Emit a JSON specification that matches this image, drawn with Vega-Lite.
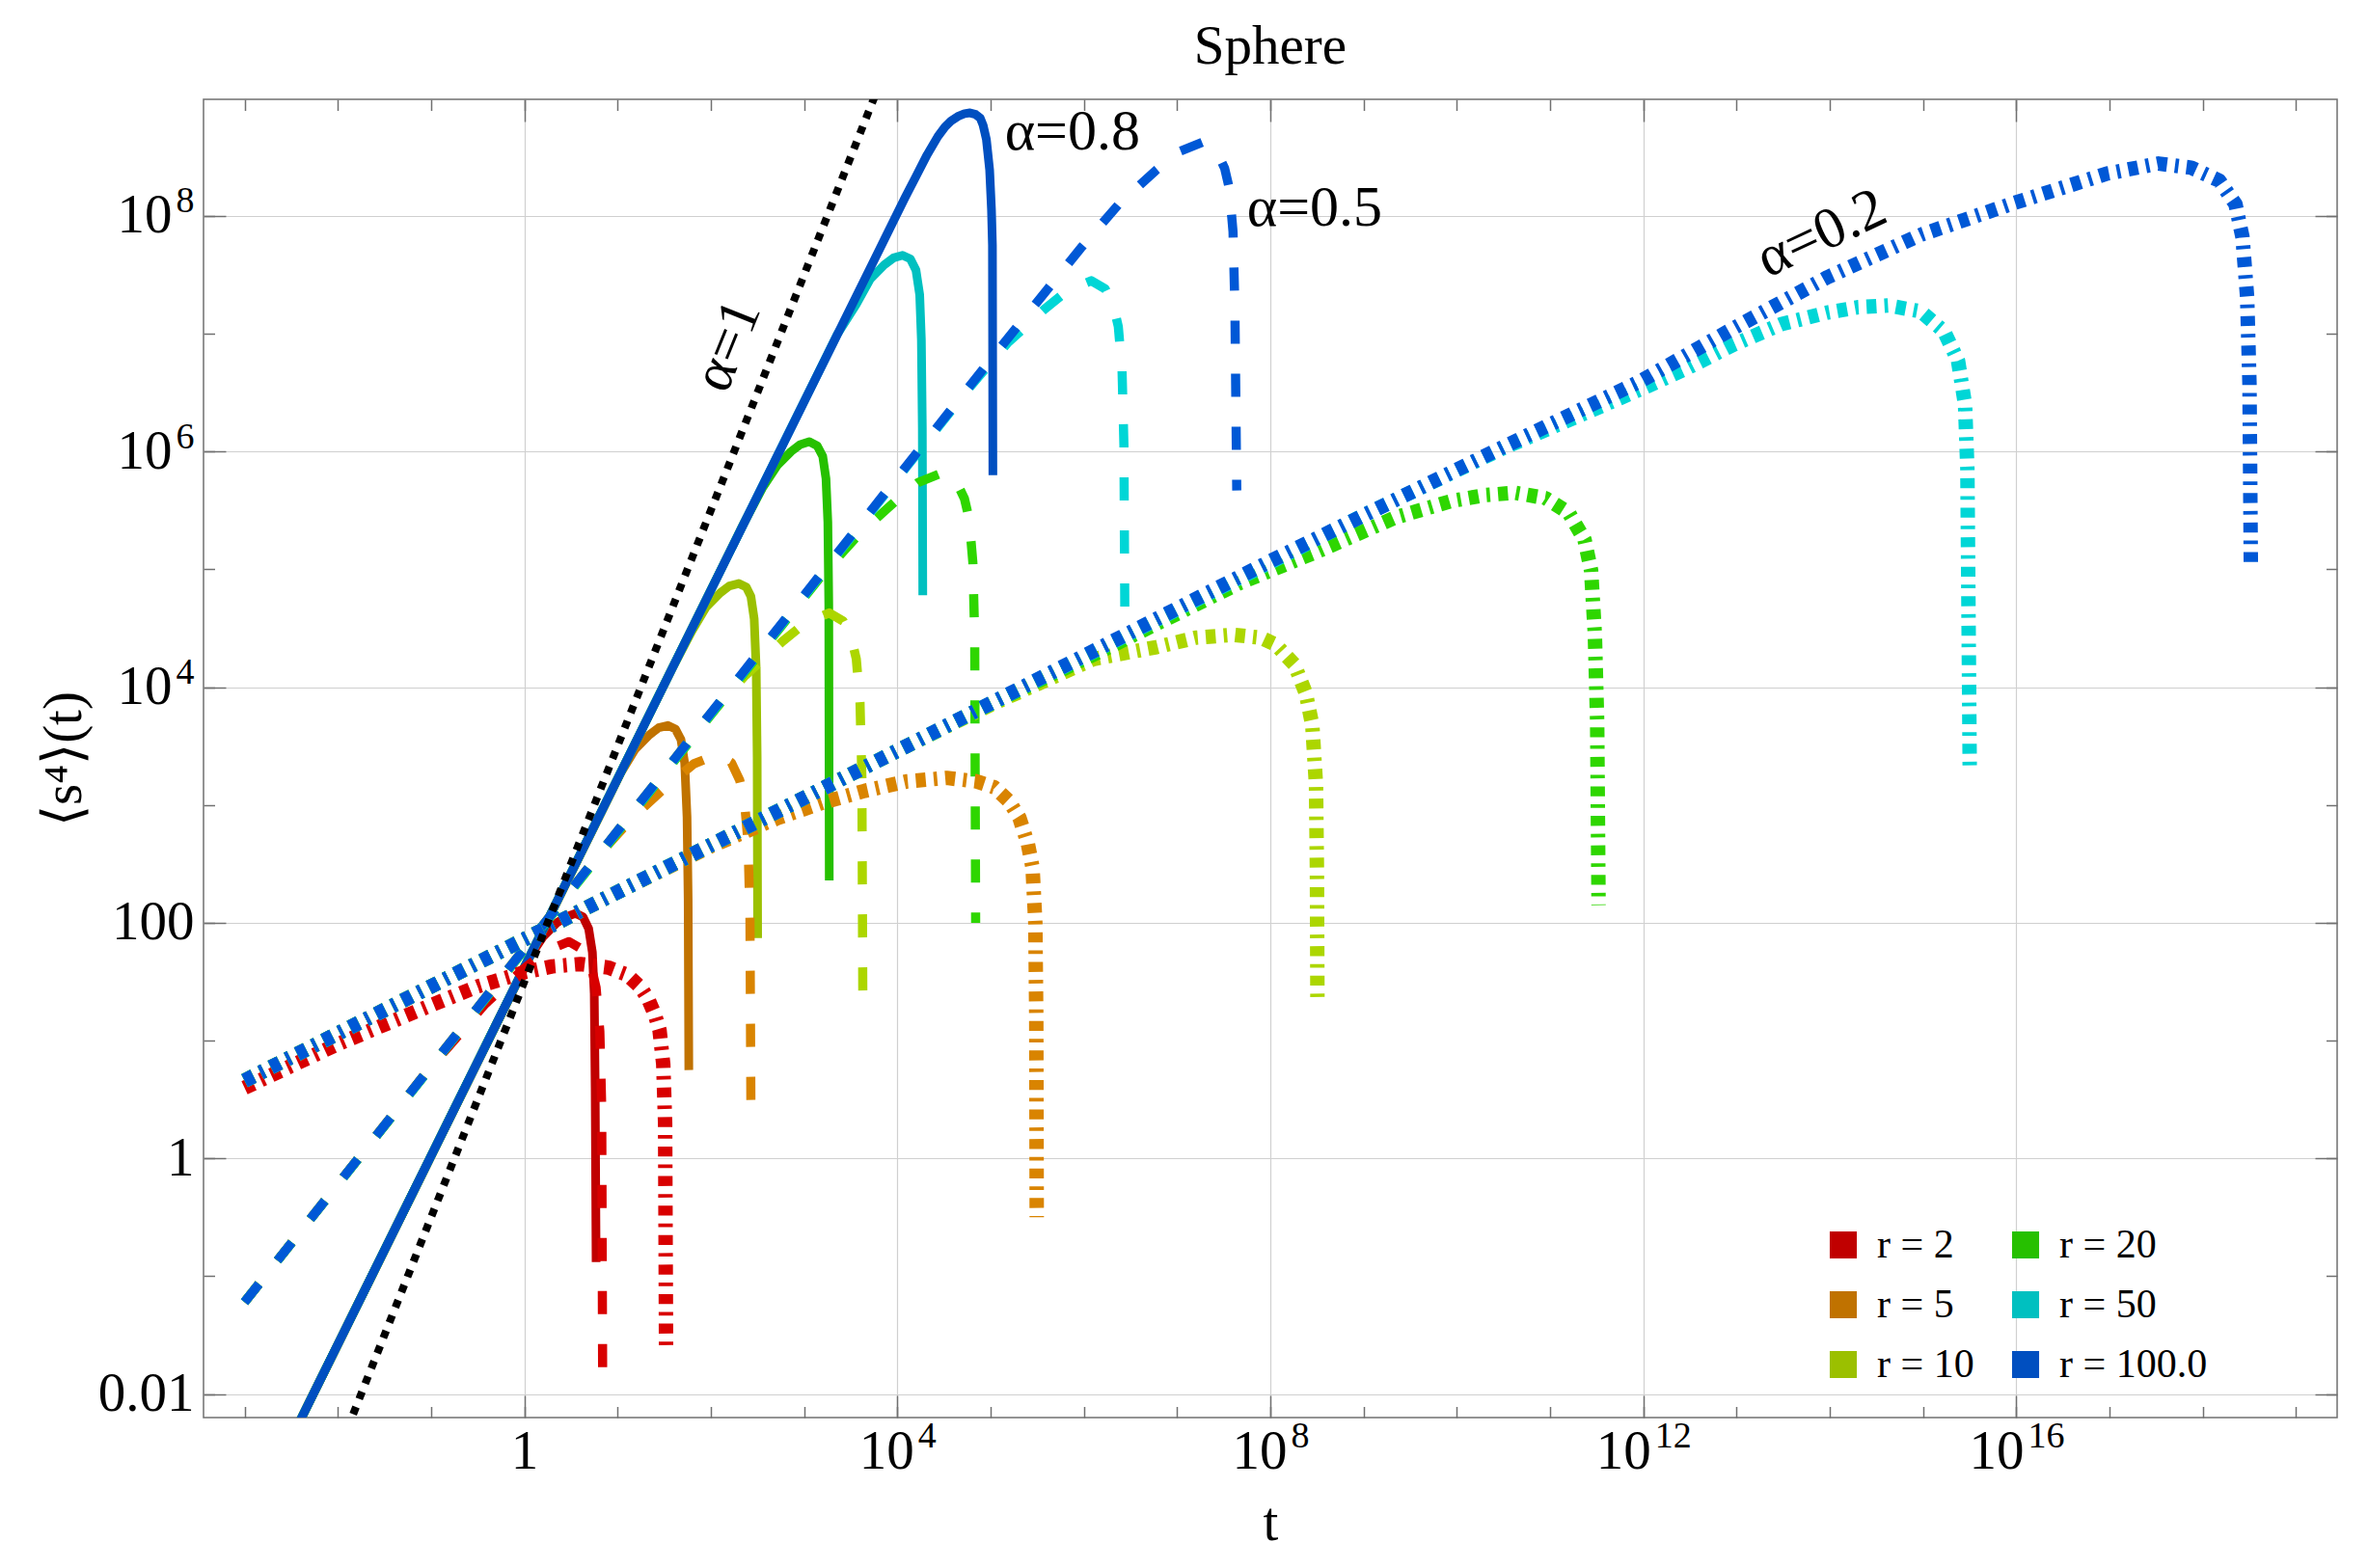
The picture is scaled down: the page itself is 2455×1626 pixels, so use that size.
{
  "$schema": "https://vega.github.io/schema/vega-lite/v6.json",
  "width": 2212,
  "height": 1367,
  "autosize": "none",
  "padding": {"left": 211, "top": 103, "right": 32, "bottom": 156},
  "background": "white",
  "title": {"text": "Sphere", "font": "Liberation Serif", "fontSize": 57, "fontWeight": "normal", "color": "black", "anchor": "middle", "baseline": "alphabetic", "offset": 35, "dy": 56},
  "config": {
    "view": {"stroke": "#707070", "strokeWidth": 1.5},
    "axis": {
      "labelFont": "Liberation Serif", "labelFontSize": 57, "labelColor": "black",
      "titleFont": "Liberation Serif", "titleFontSize": 57, "titleFontWeight": "normal", "titleColor": "black",
      "tickColor": "#707070", "tickWidth": 1.5,
      "gridColor": "#d0d0d0", "gridWidth": 1.2,
      "domain": false, "labelOverlap": false, "labelFlush": false
    }
  },
  "datasets": {
    "solid": [
      {"r": 2, "t": 0.001, "y": 0.000661},
      {"r": 2, "t": 0.7079, "y": 23.99},
      {"r": 2, "t": 1.122, "y": 50.12},
      {"r": 2, "t": 1.585, "y": 75.86},
      {"r": 2, "t": 2.239, "y": 100},
      {"r": 2, "t": 2.818, "y": 112.2},
      {"r": 2, "t": 3.548, "y": 120.2},
      {"r": 2, "t": 4.266, "y": 112.2},
      {"r": 2, "t": 4.898, "y": 89.13},
      {"r": 2, "t": 5.37, "y": 56.23},
      {"r": 2, "t": 5.623, "y": 25.12},
      {"r": 2, "t": 5.754, "y": 3.981},
      {"r": 2, "t": 5.888, "y": 0.1318},
      {"r": 5, "t": 0.001, "y": 0.000661},
      {"r": 5, "t": 6.918, "y": 912.0},
      {"r": 5, "t": 10.96, "y": 1905},
      {"r": 5, "t": 15.49, "y": 2985},
      {"r": 5, "t": 21.88, "y": 3936},
      {"r": 5, "t": 27.54, "y": 4519},
      {"r": 5, "t": 34.67, "y": 4732},
      {"r": 5, "t": 41.69, "y": 4416},
      {"r": 5, "t": 47.86, "y": 3589},
      {"r": 5, "t": 52.48, "y": 2265},
      {"r": 5, "t": 55.59, "y": 794.3},
      {"r": 5, "t": 57.15, "y": 158.5},
      {"r": 5, "t": 58.08, "y": 5.623},
      {"r": 10, "t": 0.001, "y": 0.000661},
      {"r": 10, "t": 39.81, "y": 15140},
      {"r": 10, "t": 63.1, "y": 30200},
      {"r": 10, "t": 89.13, "y": 47860},
      {"r": 10, "t": 125.9, "y": 63100},
      {"r": 10, "t": 158.5, "y": 72440},
      {"r": 10, "t": 199.5, "y": 75860},
      {"r": 10, "t": 239.9, "y": 70790},
      {"r": 10, "t": 269.2, "y": 58880},
      {"r": 10, "t": 291.7, "y": 38020},
      {"r": 10, "t": 306.9, "y": 14130},
      {"r": 10, "t": 314.1, "y": 2512},
      {"r": 10, "t": 317.8, "y": 74.13},
      {"r": 20, "t": 0.001, "y": 0.000661},
      {"r": 20, "t": 229.1, "y": 251200},
      {"r": 20, "t": 363.1, "y": 501200},
      {"r": 20, "t": 512.9, "y": 758600},
      {"r": 20, "t": 724.4, "y": 1000000},
      {"r": 20, "t": 912.0, "y": 1148000},
      {"r": 20, "t": 1138, "y": 1213000},
      {"r": 20, "t": 1380, "y": 1122000},
      {"r": 20, "t": 1585, "y": 912000},
      {"r": 20, "t": 1718, "y": 588800},
      {"r": 20, "t": 1799, "y": 251200},
      {"r": 20, "t": 1841, "y": 50120},
      {"r": 20, "t": 1862, "y": 229.1},
      {"r": 50, "t": 0.001, "y": 0.000661},
      {"r": 50, "t": 2291, "y": 1e7},
      {"r": 50, "t": 3631, "y": 1.778e7},
      {"r": 50, "t": 5129, "y": 2.917e7},
      {"r": 50, "t": 7244, "y": 3.846e7},
      {"r": 50, "t": 9120, "y": 4.416e7},
      {"r": 50, "t": 11380, "y": 4.634e7},
      {"r": 50, "t": 13800, "y": 4.315e7},
      {"r": 50, "t": 15850, "y": 3.467e7},
      {"r": 50, "t": 17380, "y": 2.138e7},
      {"r": 50, "t": 18110, "y": 8.913e6},
      {"r": 50, "t": 18540, "y": 1.585e6},
      {"r": 50, "t": 18750, "y": 60260},
      {"r": 100, "t": 0.001, "y": 0.000661},
      {"r": 100, "t": 12020, "y": 1.413e8},
      {"r": 100, "t": 15850, "y": 2.163e8},
      {"r": 100, "t": 20890, "y": 3.311e8},
      {"r": 100, "t": 27230, "y": 4.732e8},
      {"r": 100, "t": 32360, "y": 5.689e8},
      {"r": 100, "t": 37580, "y": 6.383e8},
      {"r": 100, "t": 44670, "y": 6.998e8},
      {"r": 100, "t": 52480, "y": 7.379e8},
      {"r": 100, "t": 60260, "y": 7.499e8},
      {"r": 100, "t": 69180, "y": 7.278e8},
      {"r": 100, "t": 77620, "y": 6.761e8},
      {"r": 100, "t": 83180, "y": 5.888e8},
      {"r": 100, "t": 90160, "y": 4.467e8},
      {"r": 100, "t": 97720, "y": 2.455e8},
      {"r": 100, "t": 102300, "y": 1.122e8},
      {"r": 100, "t": 104700, "y": 5.623e7},
      {"r": 100, "t": 105900, "y": 631000}
    ],
    "dashed": [
      {"r": 2, "t": 0.001, "y": 0.06026},
      {"r": 2, "t": 0.1, "y": 6.026},
      {"r": 2, "t": 0.1514, "y": 8.71},
      {"r": 2, "t": 0.3802, "y": 20.42},
      {"r": 2, "t": 0.955, "y": 39.81},
      {"r": 2, "t": 1.698, "y": 57.54},
      {"r": 2, "t": 3.02, "y": 69.18},
      {"r": 2, "t": 4.266, "y": 58.88},
      {"r": 2, "t": 5.248, "y": 41.69},
      {"r": 2, "t": 5.888, "y": 28.18},
      {"r": 2, "t": 6.457, "y": 12.02},
      {"r": 2, "t": 6.761, "y": 2.754},
      {"r": 2, "t": 6.918, "y": 0.01413},
      {"r": 5, "t": 0.001, "y": 0.06026},
      {"r": 5, "t": 5.888, "y": 354.8},
      {"r": 5, "t": 14.79, "y": 794.3},
      {"r": 5, "t": 37.15, "y": 1549},
      {"r": 5, "t": 66.07, "y": 2239},
      {"r": 5, "t": 117.5, "y": 2692},
      {"r": 5, "t": 166.0, "y": 2291},
      {"r": 5, "t": 204.2, "y": 1622},
      {"r": 5, "t": 229.1, "y": 1096},
      {"r": 5, "t": 251.2, "y": 467.7},
      {"r": 5, "t": 263.0, "y": 107.2},
      {"r": 5, "t": 269.2, "y": 2.63},
      {"r": 10, "t": 0.001, "y": 0.06026},
      {"r": 10, "t": 93.33, "y": 5623},
      {"r": 10, "t": 234.4, "y": 12590},
      {"r": 10, "t": 588.8, "y": 24550},
      {"r": 10, "t": 1047, "y": 35480},
      {"r": 10, "t": 1862, "y": 42660},
      {"r": 10, "t": 2630, "y": 36310},
      {"r": 10, "t": 3236, "y": 25700},
      {"r": 10, "t": 3631, "y": 17380},
      {"r": 10, "t": 3981, "y": 7413},
      {"r": 10, "t": 4169, "y": 1698},
      {"r": 10, "t": 4266, "y": 23.44},
      {"r": 20, "t": 0.001, "y": 0.06026},
      {"r": 20, "t": 1514, "y": 87100},
      {"r": 20, "t": 3802, "y": 195000},
      {"r": 20, "t": 9550, "y": 380200},
      {"r": 20, "t": 16980, "y": 549500},
      {"r": 20, "t": 30200, "y": 660700},
      {"r": 20, "t": 42660, "y": 562300},
      {"r": 20, "t": 52480, "y": 398100},
      {"r": 20, "t": 58880, "y": 269200},
      {"r": 20, "t": 64570, "y": 114800},
      {"r": 20, "t": 67610, "y": 26300},
      {"r": 20, "t": 69180, "y": 100},
      {"r": 50, "t": 0.001, "y": 0.06026},
      {"r": 50, "t": 60260, "y": 3.548e6},
      {"r": 50, "t": 151400, "y": 8.318e6},
      {"r": 50, "t": 380200, "y": 1.622e7},
      {"r": 50, "t": 676100, "y": 2.344e7},
      {"r": 50, "t": 1.202e6, "y": 2.818e7},
      {"r": 50, "t": 1.698e6, "y": 2.399e7},
      {"r": 50, "t": 2.089e6, "y": 1.698e7},
      {"r": 50, "t": 2.344e6, "y": 1.148e7},
      {"r": 50, "t": 2.57e6, "y": 4.898e6},
      {"r": 50, "t": 2.692e6, "y": 1.122e6},
      {"r": 50, "t": 2.754e6, "y": 38020},
      {"r": 100, "t": 0.001, "y": 0.06026},
      {"r": 100, "t": 100000, "y": 6.026e6},
      {"r": 100, "t": 933300, "y": 5.37e7},
      {"r": 100, "t": 2.344e6, "y": 1.245e8},
      {"r": 100, "t": 5.888e6, "y": 2.427e8},
      {"r": 100, "t": 1.047e7, "y": 3.508e8},
      {"r": 100, "t": 1.862e7, "y": 4.217e8},
      {"r": 100, "t": 2.63e7, "y": 3.589e8},
      {"r": 100, "t": 3.236e7, "y": 2.541e8},
      {"r": 100, "t": 3.631e7, "y": 1.718e8},
      {"r": 100, "t": 3.981e7, "y": 7.328e7},
      {"r": 100, "t": 4.169e7, "y": 1.679e7},
      {"r": 100, "t": 4.365e7, "y": 467700}
    ],
    "dashdot": [
      {"r": 2, "t": 0.001, "y": 3.981},
      {"r": 2, "t": 0.01, "y": 9.333},
      {"r": 2, "t": 0.1, "y": 19.95},
      {"r": 2, "t": 0.3162, "y": 28.84},
      {"r": 2, "t": 1, "y": 38.02},
      {"r": 2, "t": 1.995, "y": 42.66},
      {"r": 2, "t": 3.981, "y": 44.67},
      {"r": 2, "t": 7.943, "y": 41.69},
      {"r": 2, "t": 12.59, "y": 36.31},
      {"r": 2, "t": 17.78, "y": 28.18},
      {"r": 2, "t": 21.38, "y": 22.39},
      {"r": 2, "t": 25.12, "y": 16.6},
      {"r": 2, "t": 28.18, "y": 12.3},
      {"r": 2, "t": 30.9, "y": 6.31},
      {"r": 2, "t": 32.36, "y": 1.995},
      {"r": 2, "t": 33.11, "y": 0.02512},
      {"r": 5, "t": 0.001, "y": 4.571},
      {"r": 5, "t": 10, "y": 182.0},
      {"r": 5, "t": 100, "y": 446.7},
      {"r": 5, "t": 524.8, "y": 776.2},
      {"r": 5, "t": 1585, "y": 1047},
      {"r": 5, "t": 4467, "y": 1318},
      {"r": 5, "t": 12590, "y": 1585},
      {"r": 5, "t": 33880, "y": 1698},
      {"r": 5, "t": 70790, "y": 1585},
      {"r": 5, "t": 109600, "y": 1413},
      {"r": 5, "t": 158500, "y": 1072},
      {"r": 5, "t": 204200, "y": 776.2},
      {"r": 5, "t": 251200, "y": 467.7},
      {"r": 5, "t": 281800, "y": 295.1},
      {"r": 5, "t": 302000, "y": 100},
      {"r": 5, "t": 309000, "y": 15.85},
      {"r": 5, "t": 312600, "y": 0.3162},
      {"r": 10, "t": 0.001, "y": 4.571},
      {"r": 10, "t": 10000, "y": 2884},
      {"r": 10, "t": 100000, "y": 7079},
      {"r": 10, "t": 1.288e6, "y": 17380},
      {"r": 10, "t": 6.026e6, "y": 21880},
      {"r": 10, "t": 1.585e7, "y": 26300},
      {"r": 10, "t": 3.981e7, "y": 27860},
      {"r": 10, "t": 7.943e7, "y": 26300},
      {"r": 10, "t": 1.148e8, "y": 22910},
      {"r": 10, "t": 1.82e8, "y": 15490},
      {"r": 10, "t": 2.399e8, "y": 8913},
      {"r": 10, "t": 2.818e8, "y": 4786},
      {"r": 10, "t": 3.09e8, "y": 1479},
      {"r": 10, "t": 3.162e8, "y": 263.0},
      {"r": 10, "t": 3.199e8, "y": 23.44},
      {"r": 20, "t": 0.001, "y": 4.571},
      {"r": 20, "t": 100000, "y": 7244},
      {"r": 20, "t": 1.862e6, "y": 21880},
      {"r": 20, "t": 4.571e7, "y": 75860},
      {"r": 20, "t": 3.162e8, "y": 141300},
      {"r": 20, "t": 2.188e9, "y": 275400},
      {"r": 20, "t": 8.71e9, "y": 380200},
      {"r": 20, "t": 1.995e10, "y": 426600},
      {"r": 20, "t": 4.217e10, "y": 446700},
      {"r": 20, "t": 8.913e10, "y": 402700},
      {"r": 20, "t": 1.585e11, "y": 302000},
      {"r": 20, "t": 2.344e11, "y": 177800},
      {"r": 20, "t": 2.754e11, "y": 97720},
      {"r": 20, "t": 3.02e11, "y": 28180},
      {"r": 20, "t": 3.199e11, "y": 5012},
      {"r": 20, "t": 3.311e11, "y": 141.3},
      {"r": 50, "t": 0.001, "y": 4.571},
      {"r": 50, "t": 1e9, "y": 288400},
      {"r": 50, "t": 3.162e10, "y": 1.072e6},
      {"r": 50, "t": 9.441e11, "y": 3.388e6},
      {"r": 50, "t": 2.985e12, "y": 5.129e6},
      {"r": 50, "t": 9.441e12, "y": 8.128e6},
      {"r": 50, "t": 2.985e13, "y": 1.202e7},
      {"r": 50, "t": 9.441e13, "y": 1.514e7},
      {"r": 50, "t": 1.995e14, "y": 1.679e7},
      {"r": 50, "t": 4.217e14, "y": 1.738e7},
      {"r": 50, "t": 9.441e14, "y": 1.549e7},
      {"r": 50, "t": 1.679e15, "y": 1.047e7},
      {"r": 50, "t": 2.371e15, "y": 5.888e6},
      {"r": 50, "t": 2.818e15, "y": 2.512e6},
      {"r": 50, "t": 2.985e15, "y": 707900},
      {"r": 50, "t": 3.162e15, "y": 2089},
      {"r": 100, "t": 0.001, "y": 4.571},
      {"r": 100, "t": 10000, "y": 2884},
      {"r": 100, "t": 1e8, "y": 117500},
      {"r": 100, "t": 3.162e10, "y": 1.096e6},
      {"r": 100, "t": 9.441e11, "y": 3.981e6},
      {"r": 100, "t": 9.441e12, "y": 1.122e7},
      {"r": 100, "t": 9.441e13, "y": 3.02e7},
      {"r": 100, "t": 9.441e14, "y": 6.918e7},
      {"r": 100, "t": 9.441e15, "y": 1.288e8},
      {"r": 100, "t": 9.441e16, "y": 2.291e8},
      {"r": 100, "t": 3.35e17, "y": 2.786e8},
      {"r": 100, "t": 7.499e17, "y": 2.57e8},
      {"r": 100, "t": 1.496e18, "y": 1.995e8},
      {"r": 100, "t": 2.239e18, "y": 1.259e8},
      {"r": 100, "t": 2.661e18, "y": 6.607e7},
      {"r": 100, "t": 2.985e18, "y": 2.042e7},
      {"r": 100, "t": 3.162e18, "y": 3.802e6},
      {"r": 100, "t": 3.273e18, "y": 100000}
    ],
    "ballistic": [
      {"t": 0.01259, "y": 0.005012},
      {"t": 6310, "y": 1.259e9}
    ],
    "notes": [
      {"t": 141900, "y": 3.651e8, "label": "α=0.8"},
      {"t": 5.623e7, "y": 8.318e7, "label": "α=0.5"}
    ],
    "note02": [
      {"t": 8.128e13, "y": 7.079e7, "label": "α=0.2"}
    ],
    "note1": [
      {"t": 151.4, "y": 7.943e6, "label": "α=1"}
    ]
  },
  "layer": [
    {
      "data": {"name": "solid"},
      "mark": {"type": "line", "strokeWidth": 9, "strokeJoin": "round", "clip": true},
      "encoding": {
        "x": {"field": "t", "type": "quantitative",
          "scale": {"type": "log", "domain": [0.0003631, 2.754e19], "nice": false},
          "axis": {"orient": "bottom", "values": [1, 10000, 1e8, 1e12, 1e16], "grid": true, "ticks": false,
            "labelBaseline": "alphabetic", "labelPadding": 52,
            "labelExpr": "datum.value < 10 ? '1' : ''",
            "title": "t", "titleY": 126, "titleBaseline": "alphabetic"}},
        "y": {"field": "y", "type": "quantitative",
          "scale": {"type": "log", "domain": [0.00631, 9.772e8], "nice": false},
          "axis": {"orient": "left", "values": [0.01, 1, 100, 10000, 1e6, 1e8], "grid": true, "ticks": false,
            "labelPadding": 10,
            "labelExpr": "datum.value < 0.1 ? '0.01' : datum.value < 10 ? '1' : datum.value < 1000 ? '100' : ''",
            "title": "⟨s⁴⟩(t)", "titleX": -128, "titleBaseline": "alphabetic"}},
        "color": {"field": "r", "type": "nominal",
          "scale": {"domain": [2, 5, 10, 20, 50, 100], "range": ["#c00000", "#c07200", "#9bc000", "#26c000", "#00c0c0", "#004fc0"]},
          "legend": {"orient": "none", "legendX": 1679, "legendY": 1167, "columns": 2, "title": null, "padding": 0,
            "symbolType": "square", "symbolSize": 680, "symbolStrokeWidth": 2,
            "labelFont": "Liberation Serif", "labelFontSize": 42, "labelColor": "black", "labelOffset": 14,
            "rowPadding": 20, "columnPadding": 32,
            "labelExpr": "'r = ' + (datum.value == 100 ? '100.0' : datum.value)",
            "encode": {"symbols": {"update": {
              "fill": {"scale": "color", "field": "value"},
              "stroke": {"value": "rgba(0,0,0,0.35)"},
              "strokeWidth": {"value": 2},
              "fillOpacity": {"value": 1},
              "opacity": {"value": 1}}}}}}
      }
    },
    {
      "data": {"name": "dashed"},
      "mark": {"type": "line", "strokeWidth": 9.5, "strokeDash": [24, 31], "strokeJoin": "round", "clip": true},
      "encoding": {
        "x": {"field": "t", "type": "quantitative",
          "scale": {"type": "log", "domain": [0.0003631, 2.754e19], "nice": false},
          "axis": {"orient": "bottom", "values": [1, 10000, 1e8, 1e12, 1e16], "grid": false, "labels": false, "tickSize": -23, "title": null}},
        "y": {"field": "y", "type": "quantitative",
          "scale": {"type": "log", "domain": [0.00631, 9.772e8], "nice": false},
          "axis": {"orient": "left", "values": [0.01, 1, 100, 10000, 1e6, 1e8], "grid": false, "labels": false, "tickSize": -23, "title": null}},
        "stroke": {"field": "r", "type": "nominal",
          "scale": {"domain": [2, 5, 10, 20, 50, 100], "range": ["#d80000", "#d98400", "#acd600", "#2ed600", "#00d6d6", "#0058d6"]},
          "legend": null}
      }
    },
    {
      "data": {"name": "dashdot"},
      "mark": {"type": "line", "strokeWidth": 15, "strokeDash": [10.3, 8.3, 3.7, 8.3], "strokeJoin": "round", "clip": true},
      "encoding": {
        "x": {"field": "t", "type": "quantitative",
          "scale": {"type": "log", "domain": [0.0003631, 2.754e19], "nice": false},
          "axis": {"orient": "bottom", "values": [0.001, 0.01, 0.1, 1, 10, 100, 1000, 10000, 1e5, 1e6, 1e7, 1e8, 1e9, 1e10, 1e11, 1e12, 1e13, 1e14, 1e15, 1e16, 1e17, 1e18, 1e19], "grid": false, "labels": false, "tickSize": -11.5, "title": null}},
        "y": {"field": "y", "type": "quantitative",
          "scale": {"type": "log", "domain": [0.00631, 9.772e8], "nice": false},
          "axis": {"orient": "left", "values": [0.01, 0.1, 1, 10, 100, 1000, 10000, 1e5, 1e6, 1e7, 1e8], "grid": false, "labels": false, "tickSize": -11.5, "title": null}},
        "stroke": {"field": "r", "type": "nominal",
          "scale": {"domain": [2, 5, 10, 20, 50, 100], "range": ["#d80000", "#d98400", "#acd600", "#2ed600", "#00d6d6", "#0058d6"]},
          "legend": null}
      }
    },
    {
      "data": {"name": "ballistic"},
      "mark": {"type": "line", "strokeWidth": 8, "strokeDash": [8, 9], "color": "black", "clip": true},
      "encoding": {
        "x": {"field": "t", "type": "quantitative",
          "scale": {"type": "log", "domain": [0.0003631, 2.754e19], "nice": false},
          "axis": {"orient": "top", "values": [1, 10000, 1e8, 1e12, 1e16], "grid": false, "labels": false, "tickSize": -23, "title": null}},
        "y": {"field": "y", "type": "quantitative",
          "scale": {"type": "log", "domain": [0.00631, 9.772e8], "nice": false},
          "axis": {"orient": "right", "values": [0.01, 1, 100, 10000, 1e6, 1e8], "grid": false, "labels": false, "tickSize": -23, "title": null}}
      }
    },
    {
      "data": {"name": "notes"},
      "mark": {"type": "text", "font": "Liberation Serif", "fontSize": 60, "align": "left", "baseline": "alphabetic", "color": "black"},
      "encoding": {
        "x": {"field": "t", "type": "quantitative",
          "scale": {"type": "log", "domain": [0.0003631, 2.754e19], "nice": false},
          "axis": {"orient": "top", "values": [0.001, 0.01, 0.1, 1, 10, 100, 1000, 10000, 1e5, 1e6, 1e7, 1e8, 1e9, 1e10, 1e11, 1e12, 1e13, 1e14, 1e15, 1e16, 1e17, 1e18, 1e19], "grid": false, "labels": false, "tickSize": -11.5, "title": null}},
        "y": {"field": "y", "type": "quantitative",
          "scale": {"type": "log", "domain": [0.00631, 9.772e8], "nice": false},
          "axis": {"orient": "right", "values": [0.01, 0.1, 1, 10, 100, 1000, 10000, 1e5, 1e6, 1e7, 1e8], "grid": false, "labels": false, "tickSize": -11.5, "title": null}},
        "text": {"field": "label"}
      }
    },
    {
      "data": {"name": "note02"},
      "mark": {"type": "text", "font": "Liberation Serif", "fontSize": 60, "align": "center", "baseline": "middle", "angle": -25, "color": "black"},
      "encoding": {
        "x": {"field": "t", "type": "quantitative",
          "scale": {"type": "log", "domain": [0.0003631, 2.754e19], "nice": false},
          "axis": {"orient": "bottom", "values": [10000, 1e8, 1e12, 1e16], "grid": false, "ticks": false,
            "labelExpr": "'10'", "labelAlign": "right",
            "labelOffset": {"condition": {"test": "datum.value > 1e10", "value": 7.5}, "value": 17},
            "labelBaseline": "alphabetic", "labelPadding": 52, "title": null}},
        "y": {"field": "y", "type": "quantitative",
          "scale": {"type": "log", "domain": [0.00631, 9.772e8], "nice": false},
          "axis": {"orient": "left", "values": [10000, 1e6, 1e8], "grid": false, "ticks": false,
            "labelExpr": "'10'", "labelPadding": 33, "title": null}},
        "text": {"field": "label"}
      }
    },
    {
      "data": {"name": "note1"},
      "mark": {"type": "text", "font": "Liberation Serif", "fontSize": 60, "align": "center", "baseline": "middle", "angle": -68, "color": "black"},
      "encoding": {
        "x": {"field": "t", "type": "quantitative",
          "scale": {"type": "log", "domain": [0.0003631, 2.754e19], "nice": false},
          "axis": {"orient": "bottom", "values": [10000, 1e8, 1e12, 1e16], "grid": false, "ticks": false,
            "labelExpr": "datum.value < 1e5 ? '4' : datum.value < 1e9 ? '8' : datum.value < 1e13 ? '12' : '16'",
            "labelAlign": "left",
            "labelOffset": {"condition": {"test": "datum.value > 1e10", "value": 11.5}, "value": 21},
            "labelBaseline": "alphabetic", "labelPadding": 30, "labelFontSize": 38, "title": null}},
        "y": {"field": "y", "type": "quantitative",
          "scale": {"type": "log", "domain": [0.00631, 9.772e8], "nice": false},
          "axis": {"orient": "left", "values": [10000, 1e6, 1e8], "grid": false, "ticks": false,
            "labelExpr": "datum.value < 1e5 ? '4' : datum.value < 1e7 ? '6' : '8'",
            "labelBaseline": "alphabetic", "labelOffset": -4, "labelPadding": 10, "labelFontSize": 38, "title": null}},
        "text": {"field": "label"}
      }
    }
  ],
  "resolve": {"axis": {"x": "independent", "y": "independent"}}
}
